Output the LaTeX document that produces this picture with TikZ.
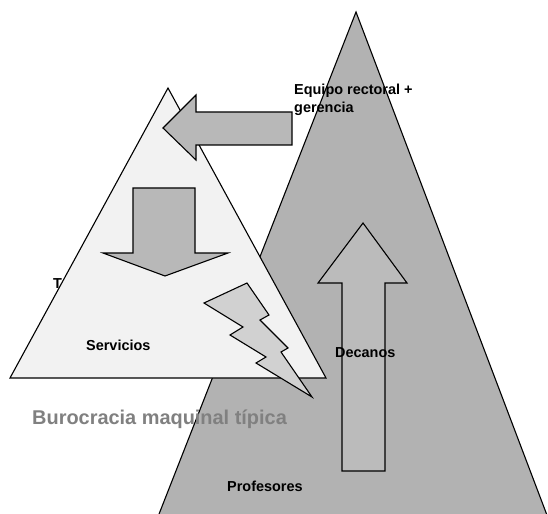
\documentclass[tikz,border=0pt]{standalone}
\usepackage{fontspec}
\setmainfont{Liberation Sans}
\begin{document}
\begin{tikzpicture}[x=1bp,y=-1bp,
  outlined/.style={draw=black,line width=1.1bp,line join=miter},
  lbl/.style={inner sep=0pt,anchor=base west,font=\bfseries\fontsize{14.5}{17.5}\selectfont,align=left},
  title/.style={inner sep=0pt,anchor=base west,text=black!50,font=\bfseries\fontsize{20}{24}\selectfont}]
\definecolor{darkpyr}{gray}{0.70}
\definecolor{lightpyr}{gray}{0.95}
\definecolor{arrowfill}{gray}{0.72}
\definecolor{boltfill}{gray}{0.82}
\useasboundingbox (0,0) rectangle (548,514);
\clip (0,0) rectangle (548,514);
% professional pyramid
\filldraw[outlined,fill=darkpyr] (356,12) -- (141,560) -- (564,560) -- cycle;
% partly hidden label on the left
\node[lbl] (tlabel) at (53,288) {T};
% machine bureaucracy pyramid
\filldraw[outlined,fill=lightpyr] (168,88) -- (10,378) -- (326,378) -- cycle;
% arrow from top management
\filldraw[outlined,fill=arrowfill] (163,128) -- (196,95) -- (196,112) -- (292,112)
  -- (292,145) -- (196,145) -- (196,160) -- cycle;
% downward control arrow
\filldraw[outlined,fill=arrowfill] (133,188) -- (195,188) -- (195,253) -- (228,253)
  -- (165,276) -- (103,253) -- (133,253) -- cycle;
% upward arrow through the deans
\filldraw[outlined,fill=arrowfill!95!white] (363,223) -- (407,283) -- (385,283) -- (385,471)
  -- (342,471) -- (342,283) -- (318,283) -- cycle;
% conflict bolt
\filldraw[outlined,fill=boltfill] (204,303) -- (247,283) -- (269,315) -- (260,320)
  -- (288,348) -- (281,352) -- (312,397) -- (256,363) -- (266,357) -- (230,335)
  -- (243,327) -- cycle;
% labels
\node[lbl] (equipo) at (294,95) {Equipo rectoral +};
\node[lbl] (gerencia) at (294,113) {gerencia};
\node[lbl] (servicios) at (86,350) {Servicios};
\node[lbl] (decanos) at (335,357) {Decanos};
\node[lbl] (profesores) at (227,491) {Profesores};
\node[title] (titulo) at (32,424) {Burocracia maquinal típica};
\end{tikzpicture}
\end{document}
